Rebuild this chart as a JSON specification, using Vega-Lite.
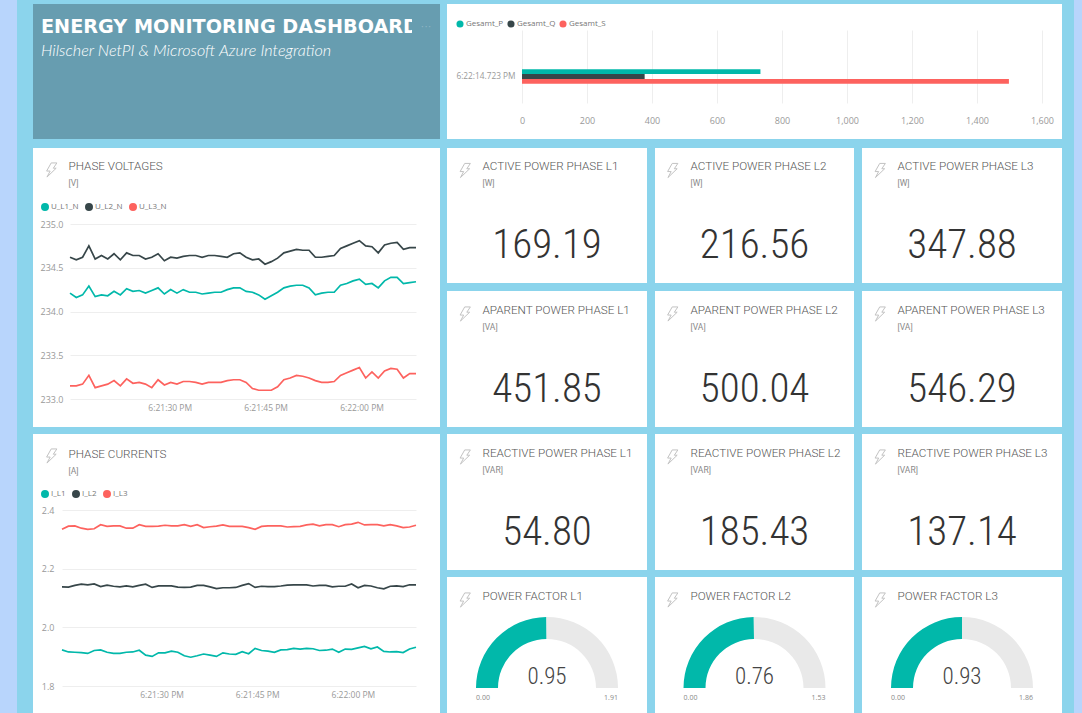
{"$schema":"https://vega.github.io/schema/vega-lite/v6.json","padding":0,"background":"#8bd4ec","spacing":0,"resolve":{"scale":{"color":"independent"},"legend":{"color":"independent"}},
"config":{"view":{"stroke":null},"axis":{"labelFont":"Open Sans","labelColor":"#999999","labelFontSize":9,"labelFlush":false,"domain":false,"ticks":false,"title":null,"gridColor":"#eeeeee","gridWidth":1},"legend":{"title":null,"orient":"none","direction":"horizontal","labelFont":"Open Sans","labelColor":"#777777","labelFontSize":8,"symbolType":"circle","symbolSize":16,"symbolStrokeWidth":4,"labelOffset":2,"columnPadding":0,"padding":0},"title":{"anchor":"start","frame":"group","font":"Roboto","fontSize":11.7,"fontWeight":300,"color":"#555555","subtitleFont":"Roboto","subtitleFontSize":8.5,"subtitleColor":"#888888","subtitlePadding":5.5,"dx":35.5}},
"datasets":{
"volt":[
{"t":"2020-01-01T18:21:14.400","U_L1_N":234.21,"U_L2_N":234.62,"U_L3_N":233.15},
{"t":"2020-01-01T18:21:15.384","U_L1_N":234.16,"U_L2_N":234.59,"U_L3_N":233.15},
{"t":"2020-01-01T18:21:16.368","U_L1_N":234.19,"U_L2_N":234.62,"U_L3_N":233.17},
{"t":"2020-01-01T18:21:17.352","U_L1_N":234.29,"U_L2_N":234.75,"U_L3_N":233.27},
{"t":"2020-01-01T18:21:18.336","U_L1_N":234.17,"U_L2_N":234.60,"U_L3_N":233.13},
{"t":"2020-01-01T18:21:19.320","U_L1_N":234.19,"U_L2_N":234.64,"U_L3_N":233.15},
{"t":"2020-01-01T18:21:20.304","U_L1_N":234.18,"U_L2_N":234.60,"U_L3_N":233.17},
{"t":"2020-01-01T18:21:21.288","U_L1_N":234.23,"U_L2_N":234.66,"U_L3_N":233.21},
{"t":"2020-01-01T18:21:22.272","U_L1_N":234.19,"U_L2_N":234.59,"U_L3_N":233.15},
{"t":"2020-01-01T18:21:23.256","U_L1_N":234.26,"U_L2_N":234.67,"U_L3_N":233.23},
{"t":"2020-01-01T18:21:24.240","U_L1_N":234.23,"U_L2_N":234.64,"U_L3_N":233.18},
{"t":"2020-01-01T18:21:25.224","U_L1_N":234.24,"U_L2_N":234.64,"U_L3_N":233.19},
{"t":"2020-01-01T18:21:26.208","U_L1_N":234.21,"U_L2_N":234.60,"U_L3_N":233.17},
{"t":"2020-01-01T18:21:27.192","U_L1_N":234.24,"U_L2_N":234.62,"U_L3_N":233.13},
{"t":"2020-01-01T18:21:28.176","U_L1_N":234.27,"U_L2_N":234.66,"U_L3_N":233.22},
{"t":"2020-01-01T18:21:29.160","U_L1_N":234.20,"U_L2_N":234.58,"U_L3_N":233.16},
{"t":"2020-01-01T18:21:30.144","U_L1_N":234.25,"U_L2_N":234.62,"U_L3_N":233.19},
{"t":"2020-01-01T18:21:31.128","U_L1_N":234.21,"U_L2_N":234.61,"U_L3_N":233.17},
{"t":"2020-01-01T18:21:32.112","U_L1_N":234.25,"U_L2_N":234.63,"U_L3_N":233.20},
{"t":"2020-01-01T18:21:33.096","U_L1_N":234.22,"U_L2_N":234.64,"U_L3_N":233.20},
{"t":"2020-01-01T18:21:34.080","U_L1_N":234.22,"U_L2_N":234.64,"U_L3_N":233.19},
{"t":"2020-01-01T18:21:35.064","U_L1_N":234.20,"U_L2_N":234.62,"U_L3_N":233.17},
{"t":"2020-01-01T18:21:36.048","U_L1_N":234.21,"U_L2_N":234.64,"U_L3_N":233.19},
{"t":"2020-01-01T18:21:37.032","U_L1_N":234.22,"U_L2_N":234.64,"U_L3_N":233.19},
{"t":"2020-01-01T18:21:38.016","U_L1_N":234.22,"U_L2_N":234.63,"U_L3_N":233.19},
{"t":"2020-01-01T18:21:39.000","U_L1_N":234.25,"U_L2_N":234.62,"U_L3_N":233.21},
{"t":"2020-01-01T18:21:39.984","U_L1_N":234.27,"U_L2_N":234.66,"U_L3_N":233.22},
{"t":"2020-01-01T18:21:40.968","U_L1_N":234.27,"U_L2_N":234.67,"U_L3_N":233.22},
{"t":"2020-01-01T18:21:41.952","U_L1_N":234.23,"U_L2_N":234.62,"U_L3_N":233.19},
{"t":"2020-01-01T18:21:42.936","U_L1_N":234.22,"U_L2_N":234.59,"U_L3_N":233.12},
{"t":"2020-01-01T18:21:43.920","U_L1_N":234.19,"U_L2_N":234.60,"U_L3_N":233.10},
{"t":"2020-01-01T18:21:44.904","U_L1_N":234.14,"U_L2_N":234.54,"U_L3_N":233.10},
{"t":"2020-01-01T18:21:45.888","U_L1_N":234.18,"U_L2_N":234.57,"U_L3_N":233.10},
{"t":"2020-01-01T18:21:46.872","U_L1_N":234.22,"U_L2_N":234.61,"U_L3_N":233.14},
{"t":"2020-01-01T18:21:47.856","U_L1_N":234.27,"U_L2_N":234.67,"U_L3_N":233.22},
{"t":"2020-01-01T18:21:48.840","U_L1_N":234.29,"U_L2_N":234.69,"U_L3_N":233.24},
{"t":"2020-01-01T18:21:49.824","U_L1_N":234.30,"U_L2_N":234.71,"U_L3_N":233.27},
{"t":"2020-01-01T18:21:50.808","U_L1_N":234.30,"U_L2_N":234.70,"U_L3_N":233.26},
{"t":"2020-01-01T18:21:51.792","U_L1_N":234.27,"U_L2_N":234.70,"U_L3_N":233.24},
{"t":"2020-01-01T18:21:52.776","U_L1_N":234.19,"U_L2_N":234.62,"U_L3_N":233.21},
{"t":"2020-01-01T18:21:53.760","U_L1_N":234.21,"U_L2_N":234.62,"U_L3_N":233.19},
{"t":"2020-01-01T18:21:54.744","U_L1_N":234.22,"U_L2_N":234.63,"U_L3_N":233.19},
{"t":"2020-01-01T18:21:55.728","U_L1_N":234.22,"U_L2_N":234.64,"U_L3_N":233.20},
{"t":"2020-01-01T18:21:56.712","U_L1_N":234.30,"U_L2_N":234.72,"U_L3_N":233.27},
{"t":"2020-01-01T18:21:57.696","U_L1_N":234.32,"U_L2_N":234.75,"U_L3_N":233.30},
{"t":"2020-01-01T18:21:58.680","U_L1_N":234.35,"U_L2_N":234.78,"U_L3_N":233.33},
{"t":"2020-01-01T18:21:59.664","U_L1_N":234.37,"U_L2_N":234.81,"U_L3_N":233.36},
{"t":"2020-01-01T18:22:00.648","U_L1_N":234.31,"U_L2_N":234.75,"U_L3_N":233.24},
{"t":"2020-01-01T18:22:01.632","U_L1_N":234.32,"U_L2_N":234.74,"U_L3_N":233.31},
{"t":"2020-01-01T18:22:02.616","U_L1_N":234.27,"U_L2_N":234.67,"U_L3_N":233.24},
{"t":"2020-01-01T18:22:03.600","U_L1_N":234.35,"U_L2_N":234.76,"U_L3_N":233.32},
{"t":"2020-01-01T18:22:04.584","U_L1_N":234.39,"U_L2_N":234.78,"U_L3_N":233.35},
{"t":"2020-01-01T18:22:05.568","U_L1_N":234.39,"U_L2_N":234.79,"U_L3_N":233.34},
{"t":"2020-01-01T18:22:06.552","U_L1_N":234.32,"U_L2_N":234.71,"U_L3_N":233.24},
{"t":"2020-01-01T18:22:07.536","U_L1_N":234.33,"U_L2_N":234.73,"U_L3_N":233.29},
{"t":"2020-01-01T18:22:08.520","U_L1_N":234.34,"U_L2_N":234.73,"U_L3_N":233.29}
],
"curr":[
{"t":"2020-01-01T18:21:14.400","I_L1":1.923,"I_L2":2.138,"I_L3":2.334},
{"t":"2020-01-01T18:21:15.409","I_L1":1.916,"I_L2":2.137,"I_L3":2.345},
{"t":"2020-01-01T18:21:16.418","I_L1":1.915,"I_L2":2.143,"I_L3":2.346},
{"t":"2020-01-01T18:21:17.427","I_L1":1.914,"I_L2":2.147,"I_L3":2.338},
{"t":"2020-01-01T18:21:18.436","I_L1":1.911,"I_L2":2.145,"I_L3":2.334},
{"t":"2020-01-01T18:21:19.445","I_L1":1.921,"I_L2":2.148,"I_L3":2.336},
{"t":"2020-01-01T18:21:20.454","I_L1":1.923,"I_L2":2.139,"I_L3":2.350},
{"t":"2020-01-01T18:21:21.463","I_L1":1.915,"I_L2":2.144,"I_L3":2.344},
{"t":"2020-01-01T18:21:22.472","I_L1":1.911,"I_L2":2.140,"I_L3":2.346},
{"t":"2020-01-01T18:21:23.481","I_L1":1.911,"I_L2":2.138,"I_L3":2.346},
{"t":"2020-01-01T18:21:24.490","I_L1":1.915,"I_L2":2.141,"I_L3":2.338},
{"t":"2020-01-01T18:21:25.499","I_L1":1.916,"I_L2":2.138,"I_L3":2.338},
{"t":"2020-01-01T18:21:26.508","I_L1":1.922,"I_L2":2.143,"I_L3":2.350},
{"t":"2020-01-01T18:21:27.517","I_L1":1.905,"I_L2":2.147,"I_L3":2.344},
{"t":"2020-01-01T18:21:28.526","I_L1":1.901,"I_L2":2.136,"I_L3":2.344},
{"t":"2020-01-01T18:21:29.535","I_L1":1.913,"I_L2":2.141,"I_L3":2.345},
{"t":"2020-01-01T18:21:30.544","I_L1":1.913,"I_L2":2.141,"I_L3":2.348},
{"t":"2020-01-01T18:21:31.553","I_L1":1.919,"I_L2":2.141,"I_L3":2.346},
{"t":"2020-01-01T18:21:32.562","I_L1":1.915,"I_L2":2.137,"I_L3":2.346},
{"t":"2020-01-01T18:21:33.571","I_L1":1.903,"I_L2":2.136,"I_L3":2.350},
{"t":"2020-01-01T18:21:34.580","I_L1":1.898,"I_L2":2.137,"I_L3":2.344},
{"t":"2020-01-01T18:21:35.589","I_L1":1.903,"I_L2":2.143,"I_L3":2.350},
{"t":"2020-01-01T18:21:36.598","I_L1":1.909,"I_L2":2.143,"I_L3":2.340},
{"t":"2020-01-01T18:21:37.607","I_L1":1.905,"I_L2":2.138,"I_L3":2.343},
{"t":"2020-01-01T18:21:38.616","I_L1":1.901,"I_L2":2.132,"I_L3":2.345},
{"t":"2020-01-01T18:21:39.625","I_L1":1.913,"I_L2":2.135,"I_L3":2.349},
{"t":"2020-01-01T18:21:40.634","I_L1":1.909,"I_L2":2.135,"I_L3":2.344},
{"t":"2020-01-01T18:21:41.643","I_L1":1.908,"I_L2":2.136,"I_L3":2.344},
{"t":"2020-01-01T18:21:42.652","I_L1":1.917,"I_L2":2.143,"I_L3":2.344},
{"t":"2020-01-01T18:21:43.661","I_L1":1.910,"I_L2":2.149,"I_L3":2.340},
{"t":"2020-01-01T18:21:44.670","I_L1":1.928,"I_L2":2.136,"I_L3":2.334},
{"t":"2020-01-01T18:21:45.679","I_L1":1.921,"I_L2":2.140,"I_L3":2.344},
{"t":"2020-01-01T18:21:46.688","I_L1":1.919,"I_L2":2.139,"I_L3":2.346},
{"t":"2020-01-01T18:21:47.697","I_L1":1.915,"I_L2":2.139,"I_L3":2.346},
{"t":"2020-01-01T18:21:48.706","I_L1":1.923,"I_L2":2.141,"I_L3":2.346},
{"t":"2020-01-01T18:21:49.715","I_L1":1.924,"I_L2":2.144,"I_L3":2.342},
{"t":"2020-01-01T18:21:50.724","I_L1":1.928,"I_L2":2.145,"I_L3":2.343},
{"t":"2020-01-01T18:21:51.733","I_L1":1.926,"I_L2":2.145,"I_L3":2.344},
{"t":"2020-01-01T18:21:52.742","I_L1":1.928,"I_L2":2.145,"I_L3":2.349},
{"t":"2020-01-01T18:21:53.751","I_L1":1.927,"I_L2":2.141,"I_L3":2.352},
{"t":"2020-01-01T18:21:54.760","I_L1":1.921,"I_L2":2.143,"I_L3":2.346},
{"t":"2020-01-01T18:21:55.769","I_L1":1.922,"I_L2":2.143,"I_L3":2.350},
{"t":"2020-01-01T18:21:56.778","I_L1":1.926,"I_L2":2.138,"I_L3":2.350},
{"t":"2020-01-01T18:21:57.787","I_L1":1.915,"I_L2":2.140,"I_L3":2.343},
{"t":"2020-01-01T18:21:58.796","I_L1":1.926,"I_L2":2.140,"I_L3":2.350},
{"t":"2020-01-01T18:21:59.805","I_L1":1.925,"I_L2":2.148,"I_L3":2.352},
{"t":"2020-01-01T18:22:00.814","I_L1":1.930,"I_L2":2.135,"I_L3":2.358},
{"t":"2020-01-01T18:22:01.823","I_L1":1.935,"I_L2":2.143,"I_L3":2.349},
{"t":"2020-01-01T18:22:02.832","I_L1":1.927,"I_L2":2.141,"I_L3":2.350},
{"t":"2020-01-01T18:22:03.841","I_L1":1.933,"I_L2":2.135,"I_L3":2.350},
{"t":"2020-01-01T18:22:04.850","I_L1":1.918,"I_L2":2.131,"I_L3":2.346},
{"t":"2020-01-01T18:22:05.859","I_L1":1.916,"I_L2":2.140,"I_L3":2.350},
{"t":"2020-01-01T18:22:06.868","I_L1":1.917,"I_L2":2.141,"I_L3":2.346},
{"t":"2020-01-01T18:22:07.877","I_L1":1.914,"I_L2":2.139,"I_L3":2.340},
{"t":"2020-01-01T18:22:08.886","I_L1":1.926,"I_L2":2.145,"I_L3":2.342},
{"t":"2020-01-01T18:22:09.895","I_L1":1.932,"I_L2":2.145,"I_L3":2.348}
]
},
"hconcat":[
{"width":17,"height":713,"data":{"values":[{}]},"mark":{"type":"rect","color":"#b8d5fc"},"encoding":{}},
{"width":16,"height":713,"data":{"values":[{}]},"mark":{"type":"rect","opacity":0},"encoding":{}},
{"spacing":0,"resolve":{"scale":{"color":"independent"},"legend":{"color":"independent"}},"vconcat":[
 {"width":407,"height":4,"data":{"values":[{}]},"mark":{"type":"rect","opacity":0},"encoding":{}},
 {"spacing":9,"resolve":{"scale":{"color":"independent"},"legend":{"color":"independent"}},"vconcat":[
  {"spacing":0,"hconcat":[
   {"width":379,"height":135,"view":{"fill":"#679db0"},"data":{"values":[{"head":"ENERGY MONITORING DASHBOARD","sub":"Hilscher NetPI & Microsoft Azure Integration"}]},"layer":[
    {"mark":{"type":"text","clip":true,"align":"left","dx":-181.5,"dy":-45,"font":"DejaVu Sans","fontWeight":"bold","fontSize":19.2,"color":"white"},"encoding":{"text":{"field":"head"}}},
    {"mark":{"type":"text","align":"left","dx":-181.5,"dy":-20.5,"font":"Lato","fontStyle":"italic","fontWeight":300,"fontSize":16.2,"color":"white"},"encoding":{"text":{"field":"sub"}}}
   ]},
   {"width":28,"height":135,"view":{"fill":"#679db0"},"data":{"values":[{"more":"···"}]},"mark":{"type":"text","color":"#8fb6c5","fontSize":11,"dy":-45},"encoding":{"text":{"field":"more"}}}
  ]},
  {"spacing":7,"resolve":{"scale":{"color":"independent"},"legend":{"color":"independent"}},"vconcat":[
   {"width":407,"height":279,"view":{"fill":"white"},"title":{"text":"PHASE VOLTAGES","subtitle":"[V]","offset":-39},"data":{"name":"volt"},"layer":[
    {"transform":[{"fold":["U_L1_N","U_L2_N","U_L3_N"],"as":["series","val"]}],"mark":{"type":"line","strokeWidth":1.7},"encoding":{
     "x":{"field":"t","type":"temporal","scale":{"range":[37,383],"nice":false},"axis":{"offset":-28,"labelPadding":4,"labelFontSize":8.5,"grid":false,"values":["2020-01-01T18:21:30","2020-01-01T18:21:45","2020-01-01T18:22:00"],"format":"%-I:%M:%S %p"}},
     "y":{"field":"val","type":"quantitative","scale":{"domain":[233,235],"range":[251,76],"nice":false,"zero":false},"axis":{"offset":-37,"labelPadding":7,"grid":true,"values":[233,233.5,234,234.5,235],"format":".1f"}},
     "color":{"field":"series","type":"nominal","scale":{"domain":["U_L1_N","U_L2_N","U_L3_N"],"range":["#01b8aa","#374649","#fd625e"]},"legend":{"legendX":8,"legendY":55}}}},
    {"data":{"values":[{}]},"mark":{"type":"point","shape":"M0.1,-1 L0.9,-1 L0.4,-0.25 L0.8,-0.25 L-0.5,1 L-0.05,0.15 L-0.55,0.15 Z","size":200,"filled":false,"stroke":"#aaaaaa","strokeWidth":1,"xOffset":-186,"yOffset":-117.5},"encoding":{}}
   ]},
   {"width":407,"height":279,"view":{"fill":"white"},"title":{"text":"PHASE CURRENTS","subtitle":"[A]","offset":-41},"data":{"name":"curr"},"layer":[
    {"transform":[{"fold":["I_L1","I_L2","I_L3"],"as":["series","val"]}],"mark":{"type":"line","strokeWidth":1.7},"encoding":{
     "x":{"field":"t","type":"temporal","scale":{"range":[29,383],"nice":false},"axis":{"offset":-27,"labelPadding":4,"labelFontSize":8.5,"grid":false,"values":["2020-01-01T18:21:30","2020-01-01T18:21:45","2020-01-01T18:22:00"],"format":"%-I:%M:%S %p"}},
     "y":{"field":"val","type":"quantitative","scale":{"domain":[1.8,2.4],"range":[252,76],"nice":false,"zero":false},"axis":{"offset":-29,"labelPadding":8,"grid":true,"values":[1.8,2.0,2.2,2.4],"format":".1f"}},
     "color":{"field":"series","type":"nominal","scale":{"domain":["I_L1","I_L2","I_L3"],"range":["#01b8aa","#374649","#fd625e"]},"legend":{"legendX":8,"legendY":56}}}},
    {"data":{"values":[{}]},"mark":{"type":"point","shape":"M0.1,-1 L0.9,-1 L0.4,-0.25 L0.8,-0.25 L-0.5,1 L-0.05,0.15 L-0.55,0.15 Z","size":200,"filled":false,"stroke":"#aaaaaa","strokeWidth":1,"xOffset":-186,"yOffset":-117.5},"encoding":{}}
   ]}
  ]}
 ]}
]},
{"width":7,"height":713,"data":{"values":[{}]},"mark":{"type":"rect","opacity":0},"encoding":{}},
{"spacing":0,"resolve":{"scale":{"color":"independent"},"legend":{"color":"independent"}},"vconcat":[
 {"width":615,"height":4,"data":{"values":[{}]},"mark":{"type":"rect","opacity":0},"encoding":{}},
 {"spacing":9,"resolve":{"scale":{"color":"independent"},"legend":{"color":"independent"}},"vconcat":[
  {"width":615,"height":135,"view":{"fill":"white"},"data":{"values":[{"time":"6:22:14.723 PM","series":"Gesamt_P","value":733.63},{"time":"6:22:14.723 PM","series":"Gesamt_Q","value":377.37},{"time":"6:22:14.723 PM","series":"Gesamt_S","value":1498.18}]},"mark":{"type":"bar"},"encoding":{
    "x":{"field":"value","type":"quantitative","scale":{"domain":[0,1600],"range":[75,595],"nice":false},"axis":{"offset":-26,"labelPadding":3,"grid":true,"values":[0,200,400,600,800,1000,1200,1400,1600],"format":",.0f"}},
    "y":{"field":"time","type":"nominal","scale":{"range":[36,109],"paddingInner":0,"paddingOuter":1.87},"axis":{"offset":-75,"labelPadding":7,"labelFontSize":8.3}},
    "yOffset":{"field":"series","sort":["Gesamt_P","Gesamt_Q","Gesamt_S"],"scale":{"paddingInner":0,"paddingOuter":1}},
    "color":{"field":"series","type":"nominal","scale":{"domain":["Gesamt_P","Gesamt_Q","Gesamt_S"],"range":["#01b8aa","#374649","#fd625e"]},"legend":{"legendX":9,"legendY":16,"symbolStrokeWidth":0,"symbolSize":50,"columnPadding":3}}}},
  {"spacing":8,"resolve":{"scale":{"color":"independent"},"legend":{"color":"independent"}},"vconcat":[
   {"spacing":8,"hconcat":[
    {"width":200,"height":135,"view":{"fill":"white"},"title":{"text":"ACTIVE POWER PHASE L1","subtitle":"[W]","offset":-39},"data":{"values":[{"value":169.19}]},"layer":[{"mark":{"type":"text","font":"Roboto Condensed","fontWeight":300,"fontSize":41,"color":"#333333","dy":30.5},"encoding":{"text":{"field":"value","format":".2f"}}},{"mark":{"type":"point","shape":"M0.1,-1 L0.9,-1 L0.4,-0.25 L0.8,-0.25 L-0.5,1 L-0.05,0.15 L-0.55,0.15 Z","size":200,"filled":false,"stroke":"#aaaaaa","strokeWidth":1,"xOffset":-83,"yOffset":-45},"encoding":{}}]},
    {"width":199,"height":135,"view":{"fill":"white"},"title":{"text":"ACTIVE POWER PHASE L2","subtitle":"[W]","offset":-39},"data":{"values":[{"value":216.56}]},"layer":[{"mark":{"type":"text","font":"Roboto Condensed","fontWeight":300,"fontSize":41,"color":"#333333","dy":30.5},"encoding":{"text":{"field":"value","format":".2f"}}},{"mark":{"type":"point","shape":"M0.1,-1 L0.9,-1 L0.4,-0.25 L0.8,-0.25 L-0.5,1 L-0.05,0.15 L-0.55,0.15 Z","size":200,"filled":false,"stroke":"#aaaaaa","strokeWidth":1,"xOffset":-83,"yOffset":-45},"encoding":{}}]},
    {"width":200,"height":135,"view":{"fill":"white"},"title":{"text":"ACTIVE POWER PHASE L3","subtitle":"[W]","offset":-39},"data":{"values":[{"value":347.88}]},"layer":[{"mark":{"type":"text","font":"Roboto Condensed","fontWeight":300,"fontSize":41,"color":"#333333","dy":30.5},"encoding":{"text":{"field":"value","format":".2f"}}},{"mark":{"type":"point","shape":"M0.1,-1 L0.9,-1 L0.4,-0.25 L0.8,-0.25 L-0.5,1 L-0.05,0.15 L-0.55,0.15 Z","size":200,"filled":false,"stroke":"#aaaaaa","strokeWidth":1,"xOffset":-83,"yOffset":-45},"encoding":{}}]}
   ]},
   {"spacing":7,"resolve":{"scale":{"color":"independent"},"legend":{"color":"independent"}},"vconcat":[
    {"spacing":8,"hconcat":[
     {"width":200,"height":136,"view":{"fill":"white"},"title":{"text":"APARENT POWER PHASE L1","subtitle":"[VA]","offset":-40},"data":{"values":[{"value":451.85}]},"layer":[{"mark":{"type":"text","font":"Roboto Condensed","fontWeight":300,"fontSize":41,"color":"#333333","dy":30.5},"encoding":{"text":{"field":"value","format":".2f"}}},{"mark":{"type":"point","shape":"M0.1,-1 L0.9,-1 L0.4,-0.25 L0.8,-0.25 L-0.5,1 L-0.05,0.15 L-0.55,0.15 Z","size":200,"filled":false,"stroke":"#aaaaaa","strokeWidth":1,"xOffset":-83,"yOffset":-45},"encoding":{}}]},
     {"width":199,"height":136,"view":{"fill":"white"},"title":{"text":"APARENT POWER PHASE L2","subtitle":"[VA]","offset":-40},"data":{"values":[{"value":500.04}]},"layer":[{"mark":{"type":"text","font":"Roboto Condensed","fontWeight":300,"fontSize":41,"color":"#333333","dy":30.5},"encoding":{"text":{"field":"value","format":".2f"}}},{"mark":{"type":"point","shape":"M0.1,-1 L0.9,-1 L0.4,-0.25 L0.8,-0.25 L-0.5,1 L-0.05,0.15 L-0.55,0.15 Z","size":200,"filled":false,"stroke":"#aaaaaa","strokeWidth":1,"xOffset":-83,"yOffset":-45},"encoding":{}}]},
     {"width":200,"height":136,"view":{"fill":"white"},"title":{"text":"APARENT POWER PHASE L3","subtitle":"[VA]","offset":-40},"data":{"values":[{"value":546.29}]},"layer":[{"mark":{"type":"text","font":"Roboto Condensed","fontWeight":300,"fontSize":41,"color":"#333333","dy":30.5},"encoding":{"text":{"field":"value","format":".2f"}}},{"mark":{"type":"point","shape":"M0.1,-1 L0.9,-1 L0.4,-0.25 L0.8,-0.25 L-0.5,1 L-0.05,0.15 L-0.55,0.15 Z","size":200,"filled":false,"stroke":"#aaaaaa","strokeWidth":1,"xOffset":-83,"yOffset":-45},"encoding":{}}]}
    ]},
    {"spacing":8,"hconcat":[
     {"width":200,"height":136,"view":{"fill":"white"},"title":{"text":"REACTIVE POWER PHASE L1","subtitle":"[VAR]","offset":-40},"data":{"values":[{"value":54.80}]},"layer":[{"mark":{"type":"text","font":"Roboto Condensed","fontWeight":300,"fontSize":41,"color":"#333333","dy":30.5},"encoding":{"text":{"field":"value","format":".2f"}}},{"mark":{"type":"point","shape":"M0.1,-1 L0.9,-1 L0.4,-0.25 L0.8,-0.25 L-0.5,1 L-0.05,0.15 L-0.55,0.15 Z","size":200,"filled":false,"stroke":"#aaaaaa","strokeWidth":1,"xOffset":-83,"yOffset":-45},"encoding":{}}]},
     {"width":199,"height":136,"view":{"fill":"white"},"title":{"text":"REACTIVE POWER PHASE L2","subtitle":"[VAR]","offset":-40},"data":{"values":[{"value":185.43}]},"layer":[{"mark":{"type":"text","font":"Roboto Condensed","fontWeight":300,"fontSize":41,"color":"#333333","dy":30.5},"encoding":{"text":{"field":"value","format":".2f"}}},{"mark":{"type":"point","shape":"M0.1,-1 L0.9,-1 L0.4,-0.25 L0.8,-0.25 L-0.5,1 L-0.05,0.15 L-0.55,0.15 Z","size":200,"filled":false,"stroke":"#aaaaaa","strokeWidth":1,"xOffset":-83,"yOffset":-45},"encoding":{}}]},
     {"width":200,"height":136,"view":{"fill":"white"},"title":{"text":"REACTIVE POWER PHASE L3","subtitle":"[VAR]","offset":-40},"data":{"values":[{"value":137.14}]},"layer":[{"mark":{"type":"text","font":"Roboto Condensed","fontWeight":300,"fontSize":41,"color":"#333333","dy":30.5},"encoding":{"text":{"field":"value","format":".2f"}}},{"mark":{"type":"point","shape":"M0.1,-1 L0.9,-1 L0.4,-0.25 L0.8,-0.25 L-0.5,1 L-0.05,0.15 L-0.55,0.15 Z","size":200,"filled":false,"stroke":"#aaaaaa","strokeWidth":1,"xOffset":-83,"yOffset":-45},"encoding":{}}]}
    ]},
    {"spacing":8,"resolve":{"scale":{"color":"independent"},"legend":{"color":"independent"}},"hconcat":[
     {"width":200,"height":136,"view":{"fill":"white"},"title":{"text":"POWER FACTOR L1","offset":-26},"layer":[
      {"data":{"values":[{"part":"filled","v":0.95,"seq":1},{"part":"remaining","v":0.96,"seq":2}]},"mark":{"type":"arc","innerRadius":49,"outerRadius":71,"yOffset":43},"encoding":{"theta":{"field":"v","type":"quantitative","stack":true,"scale":{"range":[-1.5708,1.5708]}},"order":{"field":"seq"},"color":{"field":"part","type":"nominal","scale":{"domain":["filled","remaining"],"range":["#01b8aa","#e9e9e9"]},"legend":null}}},
      {"data":{"values":[{"val":0.95,"min":0,"max":1.91}]},"layer":[
       {"mark":{"type":"text","font":"Roboto Condensed","fontWeight":300,"fontSize":23,"color":"#444444","dy":32},"encoding":{"text":{"field":"val","format":".2f"}}},
       {"mark":{"type":"text","font":"Open Sans","fontSize":7,"color":"#888888","dx":-64,"dy":53},"encoding":{"text":{"field":"min","format":".2f"}}},
       {"mark":{"type":"text","font":"Open Sans","fontSize":7,"color":"#888888","dx":64,"dy":53},"encoding":{"text":{"field":"max","format":".2f"}}}
      ]},
      {"data":{"values":[{}]},"mark":{"type":"point","shape":"M0.1,-1 L0.9,-1 L0.4,-0.25 L0.8,-0.25 L-0.5,1 L-0.05,0.15 L-0.55,0.15 Z","size":200,"filled":false,"stroke":"#aaaaaa","strokeWidth":1,"xOffset":-83,"yOffset":-45},"encoding":{}}
     ]},
     {"width":199,"height":136,"view":{"fill":"white"},"title":{"text":"POWER FACTOR L2","offset":-26},"layer":[
      {"data":{"values":[{"part":"filled","v":0.76,"seq":1},{"part":"remaining","v":0.77,"seq":2}]},"mark":{"type":"arc","innerRadius":49,"outerRadius":71,"yOffset":43},"encoding":{"theta":{"field":"v","type":"quantitative","stack":true,"scale":{"range":[-1.5708,1.5708]}},"order":{"field":"seq"},"color":{"field":"part","type":"nominal","scale":{"domain":["filled","remaining"],"range":["#01b8aa","#e9e9e9"]},"legend":null}}},
      {"data":{"values":[{"val":0.76,"min":0,"max":1.53}]},"layer":[
       {"mark":{"type":"text","font":"Roboto Condensed","fontWeight":300,"fontSize":23,"color":"#444444","dy":32},"encoding":{"text":{"field":"val","format":".2f"}}},
       {"mark":{"type":"text","font":"Open Sans","fontSize":7,"color":"#888888","dx":-64,"dy":53},"encoding":{"text":{"field":"min","format":".2f"}}},
       {"mark":{"type":"text","font":"Open Sans","fontSize":7,"color":"#888888","dx":64,"dy":53},"encoding":{"text":{"field":"max","format":".2f"}}}
      ]},
      {"data":{"values":[{}]},"mark":{"type":"point","shape":"M0.1,-1 L0.9,-1 L0.4,-0.25 L0.8,-0.25 L-0.5,1 L-0.05,0.15 L-0.55,0.15 Z","size":200,"filled":false,"stroke":"#aaaaaa","strokeWidth":1,"xOffset":-83,"yOffset":-45},"encoding":{}}
     ]},
     {"width":200,"height":136,"view":{"fill":"white"},"title":{"text":"POWER FACTOR L3","offset":-26},"layer":[
      {"data":{"values":[{"part":"filled","v":0.93,"seq":1},{"part":"remaining","v":0.93,"seq":2}]},"mark":{"type":"arc","innerRadius":49,"outerRadius":71,"yOffset":43},"encoding":{"theta":{"field":"v","type":"quantitative","stack":true,"scale":{"range":[-1.5708,1.5708]}},"order":{"field":"seq"},"color":{"field":"part","type":"nominal","scale":{"domain":["filled","remaining"],"range":["#01b8aa","#e9e9e9"]},"legend":null}}},
      {"data":{"values":[{"val":0.93,"min":0,"max":1.86}]},"layer":[
       {"mark":{"type":"text","font":"Roboto Condensed","fontWeight":300,"fontSize":23,"color":"#444444","dy":32},"encoding":{"text":{"field":"val","format":".2f"}}},
       {"mark":{"type":"text","font":"Open Sans","fontSize":7,"color":"#888888","dx":-64,"dy":53},"encoding":{"text":{"field":"min","format":".2f"}}},
       {"mark":{"type":"text","font":"Open Sans","fontSize":7,"color":"#888888","dx":64,"dy":53},"encoding":{"text":{"field":"max","format":".2f"}}}
      ]},
      {"data":{"values":[{}]},"mark":{"type":"point","shape":"M0.1,-1 L0.9,-1 L0.4,-0.25 L0.8,-0.25 L-0.5,1 L-0.05,0.15 L-0.55,0.15 Z","size":200,"filled":false,"stroke":"#aaaaaa","strokeWidth":1,"xOffset":-83,"yOffset":-45},"encoding":{}}
     ]}
    ]}
   ]}
  ]}
 ]}
]},
{"width":12,"height":713,"data":{"values":[{}]},"mark":{"type":"rect","opacity":0},"encoding":{}},
{"width":8,"height":713,"data":{"values":[{}]},"mark":{"type":"rect","color":"#b8d5fc"},"encoding":{}}
]}
